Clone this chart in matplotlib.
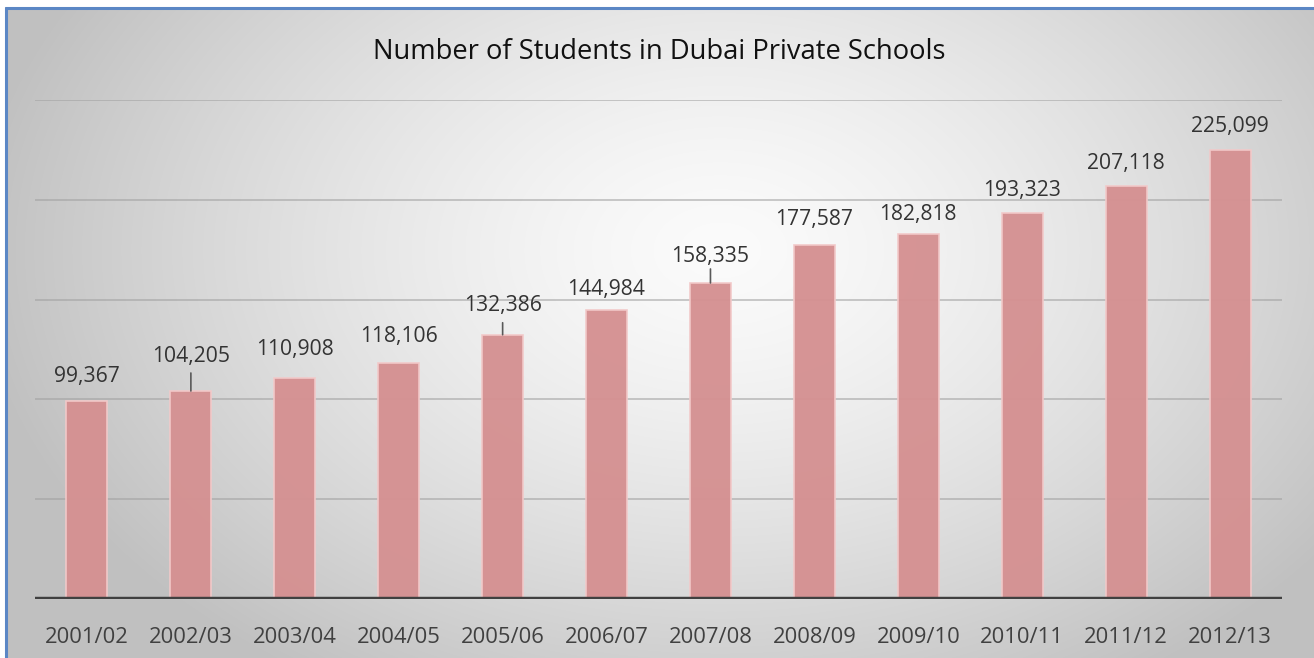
import matplotlib
matplotlib.use("Agg")
import matplotlib.pyplot as plt
import numpy as np

plt.rcParams["font.family"] = ["Open Sans", "DejaVu Sans"]

years = ["2001/02", "2002/03", "2003/04", "2004/05", "2005/06", "2006/07",
         "2007/08", "2008/09", "2009/10", "2010/11", "2011/12", "2012/13"]
students = [99367, 104205, 110908, 118106, 132386, 144984,
            158335, 177587, 182818, 193323, 207118, 225099]

# label placement (pixels above bar top) and leader line lengths
label_offsets = [24, 35, 28, 27, 29, 20, 26, 25, 20, 23, 22, 23]
leader_lengths = [0, 18, 0, 0, 12, 0, 14, 0, 0, 0, 0, 0]

W, H = 1314, 658
fig = plt.figure(figsize=(W / 100, H / 100), dpi=100)

# radial gradient background inside the chart border
bg = fig.add_axes([0, 0, 1, 1], zorder=-10)
yy, xx = np.mgrid[0:H, 0:W]
r = np.sqrt(((xx - 720) / 760.0) ** 2 + ((yy - 250) / 520.0) ** 2)
shade = np.clip(251 - 60 * r ** 1.4, 192, 251) / 255.0
img = np.dstack([shade, shade, shade])
img[:7, :, :] = 1.0
img[:, :5, :] = 1.0
bg.imshow(img, extent=[0, W, H, 0], aspect="auto", interpolation="bilinear")
bg.plot([5.5, 5.5], [7, H], color="#5B87C5", lw=2.2, solid_capstyle="butt")
bg.plot([5, W], [7.5, 7.5], color="#5B87C5", lw=2.2, solid_capstyle="butt")
bg.set_xlim(0, W)
bg.set_ylim(H, 0)
bg.axis("off")

ax = fig.add_axes([35 / W, 59 / H, (1282 - 35) / W, 499 / H])
ax.patch.set_alpha(0)
x = np.arange(len(years))
ax.bar(x, students, width=0.395, color="#D59192", edgecolor="#F2C9C9",
       linewidth=1.2, zorder=3, alpha=0.97)
ax.set_xlim(-0.5, len(years) - 0.5)
ax.set_ylim(0, 250000)
ax.set_yticks([50000, 100000, 150000, 200000, 250000])
ax.yaxis.grid(True, color="#A0A0A0", lw=1.1, alpha=0.7, zorder=1)
ax.axhline(0, color="#404040", lw=3.2, zorder=5)
for s in ax.spines.values():
    s.set_visible(False)
ax.tick_params(axis="y", left=False, labelleft=False)
ax.set_xticks(x)
ax.set_xticklabels(years, fontsize=15.8, color="#404040")
ax.tick_params(axis="x", length=0, pad=20.5)

for i, v in enumerate(students):
    ax.annotate(f"{v:,}", xy=(i, v), xytext=(0, label_offsets[i]),
                textcoords="offset pixels", ha="center", va="center",
                fontsize=15.2, color="#333333", zorder=6)
    if leader_lengths[i]:
        ax.annotate("", xy=(i, v), xytext=(0, leader_lengths[i]),
                    textcoords="offset pixels",
                    arrowprops=dict(arrowstyle="-", color="#595959", lw=1.2,
                                    shrinkA=0, shrinkB=0), zorder=6)

fig.text(659 / W, 1 - 52 / H, "Number of Students in Dubai Private Schools",
         ha="center", va="center", fontsize=19.7, color="#111111")

fig.savefig("out.png", dpi=100)
